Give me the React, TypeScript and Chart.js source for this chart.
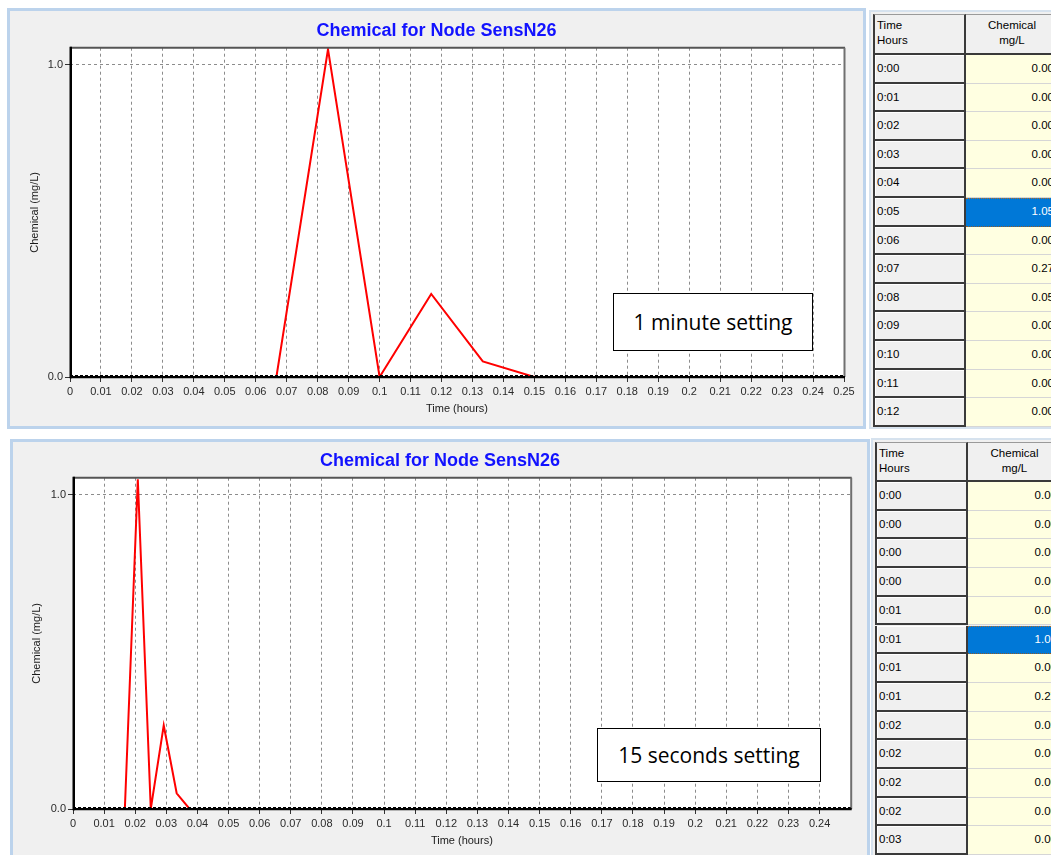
import React, { useEffect, useRef } from "react";
import { Chart, registerables } from "chart.js";

Chart.register(...registerables);

// ---------- data ----------
const chartTitle = "Chemical for Node SensN26";
const xAxisTitle = "Time (hours)";
const yAxisTitle = "Chemical (mg/L)";
const yTickValues = [0, 1];

// 1 minute setting: time in minutes, chemical in mg/L
const minuteTimes = [0, 1, 2, 3, 4, 5, 6, 7, 8, 9, 10, 11, 12, 13, 14, 15];
const minuteChemical = [0, 0, 0, 0, 0, 1.05, 0, 0.266, 0.05, 0, 0, 0, 0, 0, 0, 0];
const minuteXTicks = ["0", "0.01", "0.02", "0.03", "0.04", "0.05", "0.06", "0.07", "0.08", "0.09", "0.1", "0.11", "0.12", "0.13", "0.14", "0.15", "0.16", "0.17", "0.18", "0.19", "0.2", "0.21", "0.22", "0.23", "0.24", "0.25"];

// 15 seconds setting: time in seconds, chemical in mg/L
const secondTimes = [
  0, 15, 30, 45, 60, 75, 90, 105, 120, 135,
  150, 165, 180, 195, 210, 225, 240, 255, 270, 285,
  300, 315, 330, 345, 360, 375, 390, 405, 420, 435,
  450, 465, 480, 495, 510, 525, 540, 555, 570, 585,
  600, 615, 630, 645, 660, 675, 690, 705, 720, 735,
  750, 765, 780, 795, 810, 825, 840, 855, 870, 885,
  900,
];
const secondChemical = [
  0, 0, 0, 0, 0, 1.05, 0, 0.266, 0.05, 0,
  0, 0, 0, 0, 0, 0, 0, 0, 0, 0,
  0, 0, 0, 0, 0, 0, 0, 0, 0, 0,
  0, 0, 0, 0, 0, 0, 0, 0, 0, 0,
  0, 0, 0, 0, 0, 0, 0, 0, 0, 0,
  0, 0, 0, 0, 0, 0, 0, 0, 0, 0,
  0,
];
const secondXTicks = ["0", "0.01", "0.02", "0.03", "0.04", "0.05", "0.06", "0.07", "0.08", "0.09", "0.1", "0.11", "0.12", "0.13", "0.14", "0.15", "0.16", "0.17", "0.18", "0.19", "0.2", "0.21", "0.22", "0.23", "0.24"];

const tableHeaderTime = ["Time", "Hours"];
const tableHeaderValue = ["Chemical", "mg/L"];
const minuteTableTimes = ["0:00", "0:01", "0:02", "0:03", "0:04", "0:05", "0:06", "0:07", "0:08", "0:09", "0:10", "0:11", "0:12"];
const minuteTableValues = ["0.00", "0.00", "0.00", "0.00", "0.00", "1.05", "0.00", "0.27", "0.05", "0.00", "0.00", "0.00", "0.00"];
const secondTableTimes = ["0:00", "0:00", "0:00", "0:00", "0:01", "0:01", "0:01", "0:01", "0:02", "0:02", "0:02", "0:02", "0:03"];
const secondTableValues = ["0.00", "0.00", "0.00", "0.00", "0.00", "1.05", "0.00", "0.27", "0.05", "0.00", "0.00", "0.00", "0.00"];

const minuteNote = "1 minute setting";
const secondNote = "15 seconds setting";

// ---------- layout / style ----------
const FONT = "'Liberation Sans', Arial, sans-serif";

type ChartSpec = {
  times: number[];
  perHour: number;
  values: number[];
  xTicks: string[];
  canvasW: number;
  canvasH: number;
  yWidth: number;
  xHeight: number;
  rightPad: number;
  titleTop: number;
  titleBottom: number;
  xTitleBottom: number;
  yTitleTop: number;
};

const topSpec: ChartSpec = {
  times: minuteTimes,
  perHour: 60,
  values: minuteChemical,
  xTicks: minuteXTicks,
  canvasW: 853,
  canvasH: 415,
  yWidth: 60,
  xHeight: 49,
  rightPad: 19,
  titleTop: 9.5,
  titleBottom: 5.6,
  xTitleBottom: 10.4,
  yTitleTop: 18.4,
};

const bottomSpec: ChartSpec = {
  times: secondTimes,
  perHour: 3600,
  values: secondChemical,
  xTicks: secondXTicks,
  canvasW: 854,
  canvasH: 413,
  yWidth: 60,
  xHeight: 46,
  rightPad: 16.3,
  titleTop: 8.3,
  titleBottom: 5.8,
  xTitleBottom: 7.7,
  yTitleTop: 17.4,
};

const framePlugin = {
  id: "plotFrame",
  beforeDraw(chart: any) {
    const { ctx, chartArea } = chart;
    const { left, right, top, bottom } = chartArea;
    ctx.save();
    ctx.fillStyle = "#ffffff";
    ctx.fillRect(left, top, right - left, bottom - top);
    ctx.restore();
  },
  afterDatasetsDraw(chart: any) {
    const { ctx, chartArea } = chart;
    const { left, right, top, bottom } = chartArea;
    ctx.save();
    ctx.lineCap = "butt";
    // top
    ctx.strokeStyle = "#555555";
    ctx.lineWidth = 2;
    ctx.beginPath();
    ctx.moveTo(left, top);
    ctx.lineTo(right + 1, top);
    ctx.stroke();
    // right
    ctx.strokeStyle = "#707070";
    ctx.beginPath();
    ctx.moveTo(right + 0.5, top);
    ctx.lineTo(right + 0.5, bottom);
    ctx.stroke();
    // bottom: solid + dashed
    ctx.strokeStyle = "#000000";
    ctx.lineWidth = 2.2;
    ctx.beginPath();
    ctx.moveTo(left, bottom + 0.1);
    ctx.lineTo(right + 1, bottom + 0.1);
    ctx.stroke();
    ctx.setLineDash([3, 2]);
    ctx.lineWidth = 1;
    ctx.beginPath();
    ctx.moveTo(left, bottom - 1.5);
    ctx.lineTo(right, bottom - 1.5);
    ctx.stroke();
    ctx.setLineDash([]);
    // left
    ctx.lineWidth = 2.5;
    ctx.beginPath();
    ctx.moveTo(left + 0.75, top - 1);
    ctx.lineTo(left + 0.75, bottom + 1.2);
    ctx.stroke();
    ctx.restore();
  },
};

function ChemChart({ spec }: { spec: ChartSpec }) {
  const ref = useRef<HTMLCanvasElement>(null);
  useEffect(() => {
    const s = spec;
    const points = s.times.map((t, i) => ({ x: t / s.perHour, y: s.values[i] }));
    const tickFont = { family: FONT, size: 11 };
    const chart = new Chart(ref.current as HTMLCanvasElement, {
      type: "line",
      data: {
        datasets: [
          {
            data: points,
            borderColor: "#ff0000",
            borderWidth: 2,
            pointRadius: 0,
            tension: 0,
            fill: false,
          },
        ],
      },
      options: {
        animation: false,
        responsive: false,
        devicePixelRatio: 1,
        layout: { padding: 0 },
        plugins: {
          legend: { display: false },
          tooltip: { enabled: false },
          title: {
            display: true,
            text: chartTitle,
            color: "#1212ff",
            font: { family: FONT, size: 18, weight: "bold" },
            padding: { top: s.titleTop, bottom: s.titleBottom },
          },
        },
        scales: {
          x: {
            type: "linear",
            min: 0,
            max: 0.25,
            afterBuildTicks: (scale: any) => {
              scale.ticks = s.xTicks.map((l) => ({ value: parseFloat(l) }));
            },
            afterFit: (scale: any) => {
              scale.height = s.xHeight;
              scale.paddingLeft = 0;
              scale.paddingRight = s.rightPad;
            },
            ticks: {
              autoSkip: false,
              maxRotation: 0,
              minRotation: 0,
              padding: 3,
              color: "#2a2a2a",
              font: tickFont,
              callback: (_v: any, i: number) => s.xTicks[i],
            },
            grid: {
              color: "#8c8c8c",
              lineWidth: 1,
              tickLength: 5,
              tickColor: "#333333",
              tickWidth: 1,
              tickBorderDash: [],
            },
            border: { display: false, dash: [3, 3] },
            title: {
              display: true,
              text: xAxisTitle,
              color: "#1a1a1a",
              font: tickFont,
              padding: { top: 0, bottom: s.xTitleBottom },
            },
          },
          y: {
            type: "linear",
            min: 0,
            max: 1.055,
            afterBuildTicks: (scale: any) => {
              scale.ticks = yTickValues.map((v) => ({ value: v }));
            },
            afterFit: (scale: any) => {
              scale.width = s.yWidth;
              scale.paddingTop = 0;
              scale.paddingBottom = 0;
            },
            ticks: {
              padding: 2,
              color: "#2a2a2a",
              font: tickFont,
              callback: (v: any) => Number(v).toFixed(1),
            },
            grid: {
              color: "#8c8c8c",
              lineWidth: 1,
              tickLength: 5,
              tickColor: "#333333",
              tickWidth: 1,
              tickBorderDash: [],
            },
            border: { display: false, dash: [3, 3] },
            title: {
              display: true,
              text: yAxisTitle,
              color: "#1a1a1a",
              font: tickFont,
              padding: { top: s.yTitleTop, bottom: 0 },
            },
          },
        },
      } as any,
      plugins: [framePlugin],
    } as any);
    return () => chart.destroy();
  }, [spec]);
  return (
    <canvas
      ref={ref}
      width={spec.canvasW}
      height={spec.canvasH}
      style={{ display: "block", width: spec.canvasW, height: spec.canvasH }}
    />
  );
}

function Panel({ left, top, width, height, spec }: { left: number; top: number; width: number; height: number; spec: ChartSpec }) {
  return (
    <div
      style={{
        position: "absolute",
        left,
        top,
        width,
        height,
        boxSizing: "border-box",
        border: "3px solid #bcd3ec",
        background: "#f0f0f0",
      }}
    >
      <ChemChart spec={spec} />
    </div>
  );
}

function NoteBox({ left, top, width, height, text }: { left: number; top: number; width: number; height: number; text: string }) {
  return (
    <div
      style={{
        position: "absolute",
        left,
        top,
        width,
        height,
        boxSizing: "border-box",
        border: "1px solid #000",
        background: "#fff",
        display: "flex",
        alignItems: "center",
        justifyContent: "center",
        fontFamily: "'Open Sans', 'Noto Sans', sans-serif",
        fontSize: 21,
        color: "#000",
      }}
    >
      {text}
    </div>
  );
}

type TableSpec = {
  frameLeft: number;
  frameTop: number;
  frameH: number;
  left: number;
  top: number;
  col0: number;
  col1: number;
  headerH: number;
  rowH: number;
  times: string[];
  values: string[];
  selected: number;
};

function DataTable({ t }: { t: TableSpec }) {
  const dark = "#3a3a3a";
  const cellFont: React.CSSProperties = { fontFamily: FONT, fontSize: 11.5, color: "#000", lineHeight: "13px" };
  return (
    <>
      <div
        style={{
          position: "absolute",
          left: t.frameLeft,
          top: t.frameTop,
          width: 250,
          height: t.frameH,
          boxSizing: "border-box",
          borderLeft: "2px solid #d6e2ee",
          borderTop: "2px solid #d6e2ee",
          borderBottom: "2px solid #d6e2ee",
          background: "#f0f0f0",
        }}
      />
      {/* header */}
      <div
        style={{
          position: "absolute",
          left: t.left,
          top: t.top,
          width: t.col0,
          height: t.headerH,
          boxSizing: "border-box",
          background: "#f0f0f0",
          borderLeft: `2px solid ${dark}`,
          borderTop: "1px solid #9a9a9a",
          borderRight: `2px solid ${dark}`,
          borderBottom: `2px solid ${dark}`,
          padding: "3px 0 0 2px",
          ...cellFont,
          lineHeight: "15px",
        }}
      >
        {tableHeaderTime.map((l) => (
          <div key={l}>{l}</div>
        ))}
      </div>
      <div
        style={{
          position: "absolute",
          left: t.left + t.col0,
          top: t.top,
          width: t.col1,
          height: t.headerH,
          boxSizing: "border-box",
          background: "#f0f0f0",
          borderTop: "1px solid #9a9a9a",
          borderBottom: `2px solid ${dark}`,
          paddingTop: 3,
          textAlign: "center",
          ...cellFont,
          lineHeight: "15px",
        }}
      >
        {tableHeaderValue.map((l) => (
          <div key={l}>{l}</div>
        ))}
      </div>
      {t.times.map((tm, i) => {
        const y = t.top + t.headerH + i * t.rowH;
        const sel = i === t.selected;
        return (
          <React.Fragment key={i}>
            <div
              style={{
                position: "absolute",
                left: t.left,
                top: y,
                width: t.col0,
                height: t.rowH,
                boxSizing: "border-box",
                background: "#f0f0f0",
                borderLeft: `2px solid ${dark}`,
                borderRight: `2px solid ${dark}`,
                borderBottom: `2px solid ${dark}`,
                boxShadow: "inset 1px 1px 0 #ffffff",
                padding: "7px 0 0 2px",
                ...cellFont,
              }}
            >
              {tm}
            </div>
            <div
              style={{
                position: "absolute",
                left: t.left + t.col0,
                top: y,
                width: t.col1,
                height: t.rowH,
                boxSizing: "border-box",
                background: sel ? "#0078d7" : "#ffffe1",
                borderBottom: sel ? "1px dotted #8a5a2a" : "1px solid #d6d6d6",
                borderTop: sel ? "1px dotted #b0702a" : "none",
                padding: sel ? "6px 4px 0 0" : "7px 4px 0 0",
                textAlign: "right",
                ...cellFont,
                color: sel ? "#ffffff" : "#000000",
              }}
            >
              {t.values[i]}
            </div>
          </React.Fragment>
        );
      })}
    </>
  );
}

const topTable: TableSpec = {
  frameLeft: 869,
  frameTop: 10,
  frameH: 419,
  left: 873,
  top: 14,
  col0: 93,
  col1: 92,
  headerH: 41,
  rowH: 28.6,
  times: minuteTableTimes,
  values: minuteTableValues,
  selected: 5,
};

const bottomTable: TableSpec = {
  frameLeft: 871,
  frameTop: 438,
  frameH: 430,
  left: 875,
  top: 442,
  col0: 93,
  col1: 93,
  headerH: 40,
  rowH: 28.7,
  times: secondTableTimes,
  values: secondTableValues,
  selected: 5,
};

export default function App() {
  return (
    <div
      style={{
        position: "absolute",
        left: 0,
        top: 0,
        width: 1051,
        height: 855,
        overflow: "hidden",
        background: "#ffffff",
      }}
    >
      <Panel left={7} top={8} width={859} height={421} spec={topSpec} />
      <Panel left={10} top={439} width={860} height={425} spec={bottomSpec} />
      <NoteBox left={613} top={293} width={200} height={58} text={minuteNote} />
      <NoteBox left={597} top={728} width={224} height={54} text={secondNote} />
      <DataTable t={topTable} />
      <DataTable t={bottomTable} />
    </div>
  );
}
